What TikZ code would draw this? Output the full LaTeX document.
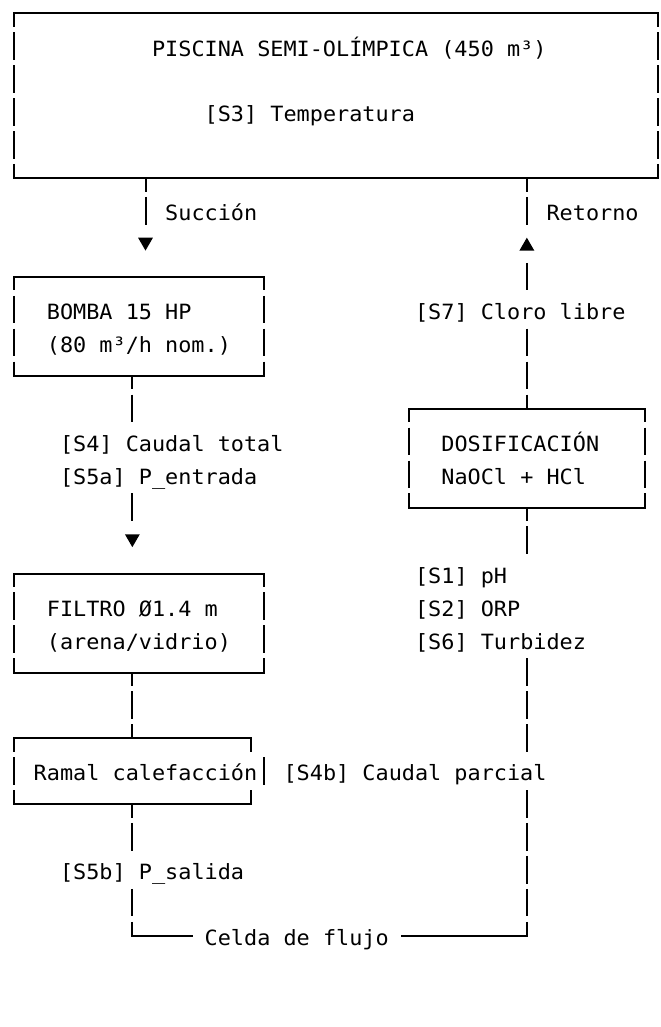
\documentclass[tikz,border=0pt]{standalone}
\usepackage{fontspec}
\usetikzlibrary{fit,shapes.geometric}
\newfontfamily\gridmono[FakeStretch=1.04]{DejaVu Sans Mono}
\newcommand\gridtext{\gridmono\fontsize{10.5pt}{12pt}\selectfont}

% one unit = one character cell (x) / one text line (y, downwards)
\tikzset{
  boxrule/.style={line width=1pt, line cap=rect},
  vedge/.style={line width=1pt, dash pattern=on 13.8pt off 2.675pt, dash phase=7.15pt},
  vbar/.style={line width=1pt, dash pattern=on 13.8pt off 2.675pt},
  lbl/.style={anchor=base west, inner sep=0pt, outer sep=0pt, font=\gridtext},
  boxarea/.style={inner sep=0pt, outer sep=0pt},
  arrowtri/.style={regular polygon, regular polygon sides=3, fill=black, draw=none,
                   inner sep=0pt, outer sep=0pt, minimum size=8.6pt},
  tridown/.style={arrowtri, shape border rotate=180},
  triup/.style={arrowtri},
}

\newcommand\gridbox[1]{%
  \draw[boxrule] (#1.north west) -- (#1.north east);
  \draw[boxrule] (#1.south west) -- (#1.south east);
  \draw[vedge] (#1.north west) -- (#1.south west);
  \draw[vedge] (#1.north east) -- (#1.south east);}

\begin{document}
\begin{tikzpicture}[x=6.575pt, y=-16.475pt]
\useasboundingbox (-1.0646,-0.4097) rectangle (49.2015,30.7587);

% ---- units ----
\node[boxarea, fit={(0,0) (49,5)}] (pool) {};
\node[boxarea, fit={(0,8) (19,11)}] (pump) {};
\node[boxarea, fit={(30,12) (48,15)}] (dosing) {};
\node[boxarea, fit={(0,17) (19,20)}] (filter) {};
\node[boxarea, fit={(0,22) (18,24)}] (heater) {};

\gridbox{pool}
\gridbox{pump}
\gridbox{dosing}
\gridbox{filter}

% heating branch: its right side is offset on the text line
\draw[boxrule] (heater.north west) -- (heater.north east);
\draw[boxrule] (heater.south west) -- (heater.south east);
\draw[vedge] (heater.north west) -- (heater.south west);
\draw[vedge] (heater.north east) -- ++(0,0.404);
\draw[vbar] (heater.south east) ++(0,-0.434) -- (heater.south east);
\draw[vbar] (19,22.566) -- (19,23.404);

% ---- texts ----
\node[lbl] (poolname) at (10.5,1.29) {PISCINA SEMI-OLÍMPICA (450 m³)};
\node[lbl] (pooltemp) at (14.5,3.29) {[S3] Temperatura};
\node[lbl] (suction) at (11.5,6.29) {Succión};
\node[lbl] (return) at (40.5,6.29) {Retorno};
\node[lbl] (pumpname) at (2.5,9.29) {BOMBA 15 HP};
\node[lbl] (pumpflow) at (2.5,10.29) {(80 m³/h nom.)};
\node[lbl] (chlorine) at (30.5,9.29) {[S7] Cloro libre};
\node[lbl] (flowtotal) at (3.5,13.29) {[S4] Caudal total};
\node[lbl] (pin) at (3.5,14.29) {[S5a] P\_entrada};
\node[lbl] (dosname) at (32.5,13.29) {DOSIFICACIÓN};
\node[lbl] (doschem) at (32.5,14.29) {NaOCl + HCl};
\node[lbl] (ph) at (30.5,17.29) {[S1] pH};
\node[lbl] (orp) at (30.5,18.29) {[S2] ORP};
\node[lbl] (turb) at (30.5,19.29) {[S6] Turbidez};
\node[lbl] (filtname) at (2.5,18.29) {FILTRO Ø1.4 m};
\node[lbl] (filtmedia) at (2.5,19.29) {(arena/vidrio)};
\node[lbl] (heatname) at (1.5,23.29) {Ramal calefacción};
\node[lbl] (flowpart) at (20.5,23.29) {[S4b] Caudal parcial};
\node[lbl] (pout) at (3.5,26.29) {[S5b] P\_salida};
\node[lbl] (cell) at (14.5,28.29) {Celda de flujo};

% ---- arrowheads ----
\node[tridown] (sA) at (10,6.935) {};
\node[triup] (rA) at (39,7.065) {};
\node[tridown] (fA) at (9,15.935) {};

% ---- line ends ----
\coordinate (sucEnd) at (10,6.404);
\coordinate (retEnd) at (39,6.404);
\coordinate (retA) at (39,7.566);
\coordinate (retB) at (39,8.404);
\coordinate (retC) at (39,9.566);
\coordinate (dosEnd) at (39,16.404);
\coordinate (smpA) at (39,19.566);
\coordinate (smpB) at (39,22.404);
\coordinate (smpC) at (39,23.566);
\coordinate (cellR) at (39,28);
\coordinate (cellRx) at (29.5,28);
\coordinate (pumpEnd) at (9,12.404);
\coordinate (inA) at (9,14.566);
\coordinate (inB) at (9,15.404);
\coordinate (heatEnd) at (9,25.404);
\coordinate (outA) at (9,26.566);
\coordinate (cellL) at (9,28);
\coordinate (cellLx) at (13.5,28);

% ---- suction side ----
\draw[vedge] (pool.south -| sA) -- (sucEnd);
\draw[vedge] (pump.south -| fA) -- (pumpEnd);
\draw[vbar] (inA) -- (inB);
\draw[vedge] (filter.south -| fA) -- (heater.north -| fA);
\draw[vedge] (heater.south -| fA) -- (heatEnd);
\draw[vbar] (outA) -- (cellL);
\draw[boxrule] (cellL) -- (cellLx);

% ---- return side ----
\draw[vedge] (pool.south -| rA) -- (retEnd);
\draw[vbar] (retA) -- (retB);
\draw[vbar] (retC) -- (dosing.north -| rA);
\draw[vedge] (dosing.south -| rA) -- (dosEnd);
\draw[vbar] (smpA) -- (smpB);
\draw[vbar] (smpC) -- (cellR);
\draw[boxrule] (cellRx) -- (cellR);
\end{tikzpicture}
\end{document}
